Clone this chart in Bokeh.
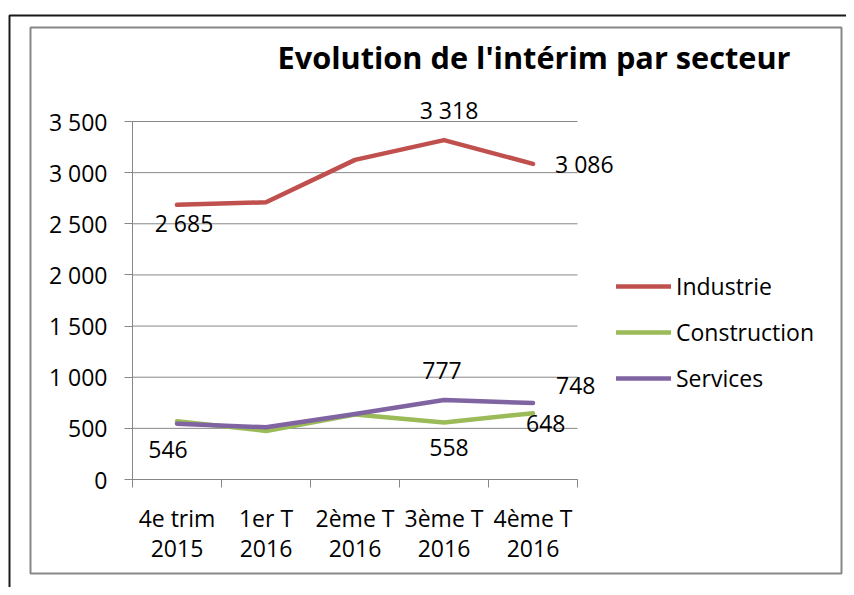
from bokeh.plotting import figure
from bokeh.models import (Range1d, FixedTicker, ColumnDataSource, Label,
                          Legend, LegendItem, BoxAnnotation)
from bokeh.embed import file_html
from bokeh.resources import INLINE

# ---------------- data ----------------
categories = ["4e trim\n2015", "1er T\n2016", "2ème T\n2016", "3ème T\n2016", "4ème T\n2016"]
series_names = ["Industrie", "Construction", "Services"]
industrie = [2685, 2710, 3125, 3318, 3086]
construction = [570, 475, 635, 558, 648]
services = [546, 510, 640, 777, 748]
y_ticks = [0, 500, 1000, 1500, 2000, 2500, 3000, 3500]
title_text = "Evolution de l'intérim par secteur"

# which points carry a value label (category indices)
labelled = {"Industrie": [0, 3, 4], "Construction": [3, 4], "Services": [0, 3, 4]}

# ---------------- styles / layout ----------------
colors = {"Industrie": "#C0504D", "Construction": "#9BBB59", "Services": "#8064A2"}
label_style = {  # (x_offset, y_offset, align)
    ("Industrie", 0): (7, -18, "center"),
    ("Industrie", 3): (5, 30, "center"),
    ("Industrie", 4): (22, 0, "left"),
    ("Construction", 3): (5, -25, "center"),
    ("Construction", 4): (-7, -10, "left"),
    ("Services", 0): (-9, -26, "center"),
    ("Services", 3): (-2, 30, "center"),
    ("Services", 4): (23, 17, "left"),
}
FONT = "Open Sans"
FS = "23px"
GRAY = "#878787"
W, H = 846, 587
PLOT_L, PLOT_R, PLOT_T, PLOT_B = 132, 577, 121, 479   # plot area in canvas px

values = {"Industrie": industrie, "Construction": construction, "Services": services}
n = len(categories)
xs = [i + 0.5 for i in range(n)]
ymax = y_ticks[-1]

# ranges chosen so that the frame covers the whole canvas
xpp = n / (PLOT_R - PLOT_L)
ypp = ymax / (PLOT_B - PLOT_T)
x_range = Range1d(0 - PLOT_L * xpp, n + (W - PLOT_R) * xpp)
y_range = Range1d(0 - (H - PLOT_B) * ypp, ymax + PLOT_T * ypp)

p = figure(width=W, height=H, output_backend="svg", toolbar_location=None,
           x_range=x_range, y_range=y_range,
           min_border_left=0, min_border_right=0, min_border_top=0, min_border_bottom=0)
p.outline_line_color = None
p.background_fill_color = "white"
p.border_fill_color = "white"
p.xgrid.visible = False
p.ygrid.visible = False

# horizontal gridlines
p.segment(x0=[0] * len(y_ticks), x1=[n] * len(y_ticks), y0=y_ticks, y1=y_ticks,
          line_color=GRAY, line_width=1)

# y axis
ya = p.yaxis[0]
ya.fixed_location = 0
ya.bounds = (0, ymax)
ya.ticker = FixedTicker(ticks=y_ticks)
ya.major_label_overrides = {t: f"{t:,}".replace(",", " ") for t in y_ticks}
ya.axis_line_color = GRAY
ya.major_tick_line_color = GRAY
ya.major_tick_out = 8
ya.major_tick_in = 0
ya.minor_tick_line_color = None
ya.major_label_text_font = FONT
ya.major_label_text_font_size = FS
ya.major_label_text_color = "black"
ya.major_label_standoff = 17

# x axis
xa = p.xaxis[0]
xa.fixed_location = 0
xa.bounds = (0, n)
xa.ticker = FixedTicker(ticks=xs, minor_ticks=list(range(n + 1)))
xa.major_label_overrides = {x: c for x, c in zip(xs, categories)}
xa.axis_line_color = GRAY
xa.major_tick_line_color = None
xa.major_tick_out = 0
xa.major_tick_in = 0
xa.minor_tick_line_color = GRAY
xa.minor_tick_out = 8
xa.minor_tick_in = 0
xa.major_label_text_font = FONT
xa.major_label_text_font_size = FS
xa.major_label_text_color = "black"
xa.major_label_text_line_height = 0.95
xa.major_label_standoff = 14

# lines
items = []
for name in series_names:
    src = ColumnDataSource(dict(x=xs, y=values[name]))
    r = p.line("x", "y", source=src, line_color=colors[name], line_width=4.5,
               line_cap="round", line_join="round")
    items.append(LegendItem(label=name, renderers=[r]))

# value labels
for name in series_names:
    for i in labelled[name]:
        dx, dy, align = label_style[(name, i)]
        v = values[name][i]
        p.add_layout(Label(x=xs[i], y=v, text=f"{v:,}".replace(",", " "),
                           x_offset=dx, y_offset=dy, text_align=align,
                           text_baseline="middle", text_font=FONT,
                           text_font_size=FS, text_color="black"))

# legend
legend = Legend(items=items, location=(616, H - 394), orientation="vertical",
                glyph_width=55, glyph_height=20, label_height=20, spacing=14,
                label_standoff=5, padding=0, margin=0,
                border_line_color=None, background_fill_alpha=0,
                label_text_font=FONT, label_text_font_size=FS,
                label_text_color="black")
p.add_layout(legend, "center")

# title
p.add_layout(Label(x=277, y=H - 56, x_units="screen", y_units="screen", text=title_text,
                   text_align="left", text_baseline="alphabetic", text_font=FONT,
                   text_font_style="bold", text_font_size="30.7px", text_color="black"))

# chart area frame & page frame
p.add_layout(BoxAnnotation(left=30, right=841, top=H - 27, bottom=H - 573,
                           left_units="screen", right_units="screen",
                           top_units="screen", bottom_units="screen",
                           fill_alpha=0, line_color=GRAY, line_alpha=1, line_width=2))
p.add_layout(BoxAnnotation(left=9, right=W + 50, top=H - 15, bottom=-50,
                           left_units="screen", right_units="screen",
                           top_units="screen", bottom_units="screen",
                           fill_alpha=0, line_color="#1a1a1a", line_alpha=1, line_width=2))

open("out.html", "w").write(file_html(p, INLINE))
